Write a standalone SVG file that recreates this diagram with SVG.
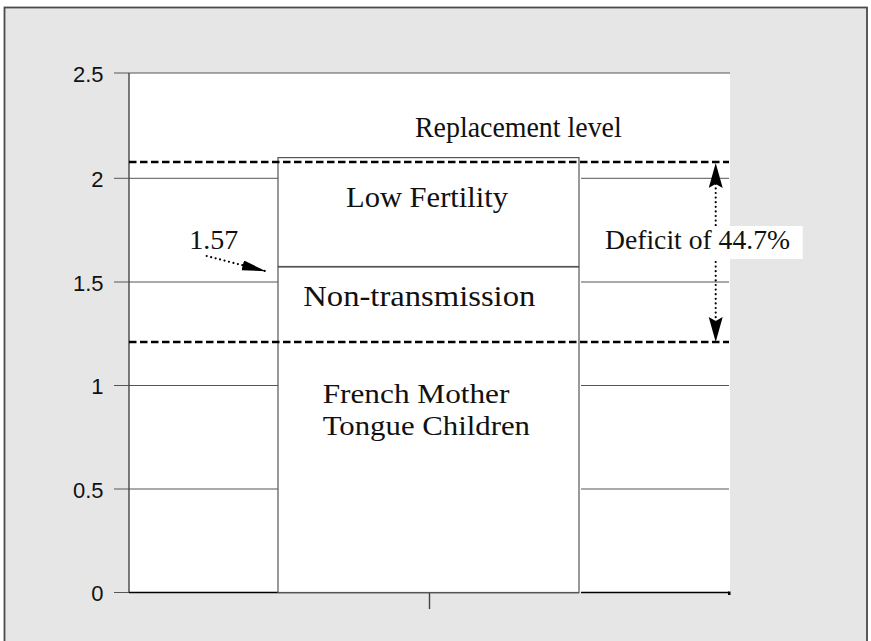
<svg xmlns="http://www.w3.org/2000/svg" width="871" height="641" viewBox="0 0 871 641">
<defs>
<style>
.grid{stroke:#555;stroke-width:1;fill:none}
.axis{stroke:#444;stroke-width:1.4;fill:none}
.bar{fill:#fff;stroke:#555;stroke-width:1.2}
.dash{stroke:#000;stroke-width:2.6;stroke-dasharray:7.5 3.5;fill:none}
.dot{stroke:#000;stroke-width:2.2;stroke-linecap:round;stroke-dasharray:0 4.6;fill:none}
.lab{font-family:"Liberation Sans",Arial,sans-serif;font-size:22px;fill:#111;text-anchor:end}
.ser{font-family:"Liberation Serif","Times New Roman",serif;font-size:30px;fill:#111}
</style>
<marker id="ah1" markerUnits="userSpaceOnUse" markerWidth="26" markerHeight="12" refX="24" refY="5" orient="auto">
<path d="M0,0 L24,5 L0,10 z" fill="#000"/>
</marker>
<marker id="ah2" markerUnits="userSpaceOnUse" markerWidth="28" markerHeight="16" refX="25" refY="7" orient="auto-start-reverse">
<path d="M0,0 L25,7 L0,14 L4,7 z" fill="#000"/>
</marker>
</defs>
<rect id="frame" x="4.5" y="7.5" width="862.5" height="640" fill="#e6e6e6" stroke="#4a4a4a" stroke-width="1.8"/>
<rect id="plot" x="129" y="73" width="601" height="519.5" fill="#fff"/>
<g id="gridlines">
<line class="grid" x1="114" y1="73" x2="730" y2="73"/>
<line class="grid" x1="114" y1="178.3" x2="278" y2="178.3"/>
<line class="grid" x1="581" y1="178.3" x2="729" y2="178.3"/>
<line class="grid" x1="114" y1="282" x2="278" y2="282"/>
<line class="grid" x1="581" y1="282" x2="729" y2="282"/>
<line class="grid" x1="114" y1="385.5" x2="278" y2="385.5"/>
<line class="grid" x1="581" y1="385.5" x2="729" y2="385.5"/>
<line class="grid" x1="114" y1="489" x2="278" y2="489"/>
<line class="grid" x1="581" y1="489" x2="729" y2="489"/>
<line class="grid" x1="114" y1="592.5" x2="129" y2="592.5"/>
</g>
<g id="axes">
<line class="axis" x1="129" y1="73" x2="129" y2="593"/>
<line stroke="#000" stroke-width="1.6" x1="129" y1="592.5" x2="579" y2="592.5"/>
<line stroke="#000" stroke-width="1.6" x1="581" y1="592.5" x2="729" y2="592.5"/>
<rect x="728" y="591.5" width="2.5" height="3.5" fill="#000"/>
<line class="axis" x1="429.5" y1="593" x2="429.5" y2="609"/>
<text class="lab" x="103.5" y="81.5">2.5</text>
<text class="lab" x="103.5" y="186.8">2</text>
<text class="lab" x="103.5" y="290.5">1.5</text>
<text class="lab" x="103.5" y="394">1</text>
<text class="lab" x="103.5" y="497.5">0.5</text>
<text class="lab" x="103.5" y="600.8">0</text>
</g>
<g id="node-french">
<rect class="bar" x="278" y="267" width="301" height="325.5"/>
<text class="ser" style="font-size:28px"><tspan x="322.7" y="403.4" textLength="186.7" lengthAdjust="spacingAndGlyphs">French Mother</tspan><tspan x="322.7" y="434.6" textLength="207.3" lengthAdjust="spacingAndGlyphs">Tongue Children</tspan></text>
</g>
<g id="node-nontransmission">
<text class="ser" x="303.3" y="306" textLength="232" lengthAdjust="spacingAndGlyphs">Non-transmission</text>
</g>
<g id="node-lowfertility">
<rect class="bar" x="278" y="157.6" width="301" height="108.9"/>
<text class="ser" x="346" y="207.3" textLength="162" lengthAdjust="spacingAndGlyphs">Low Fertility</text>
</g>
<g id="node-replacement">
<line class="dash" x1="129" y1="162" x2="729" y2="162"/>
<text class="ser" x="415" y="136.7" style="font-size:29px" textLength="206.7" lengthAdjust="spacingAndGlyphs">Replacement level</text>
</g>
<g id="node-lowerlevel">
<line class="dash" x1="129" y1="342" x2="729" y2="342"/>
</g>
<g id="connectors">
<line class="dot" x1="206.7" y1="256" x2="266" y2="271.3" marker-end="url(#ah1)"/>
<line class="dot" x1="715.7" y1="170" x2="715.7" y2="335"/>
<line stroke="none" x1="715.7" y1="163" x2="715.7" y2="342" marker-start="url(#ah2)" marker-end="url(#ah2)"/>
</g>
<g id="node-deficit">
<rect x="598" y="226" width="204.7" height="33" fill="#fff"/>
<text class="ser" x="605" y="249.3" style="font-size:28px" textLength="185" lengthAdjust="spacingAndGlyphs">Deficit of 44.7%</text>
</g>
<g id="node-157">
<text class="ser" x="189.3" y="249.3" style="font-size:28px" textLength="49" lengthAdjust="spacingAndGlyphs">1.57</text>
</g>
</svg>
